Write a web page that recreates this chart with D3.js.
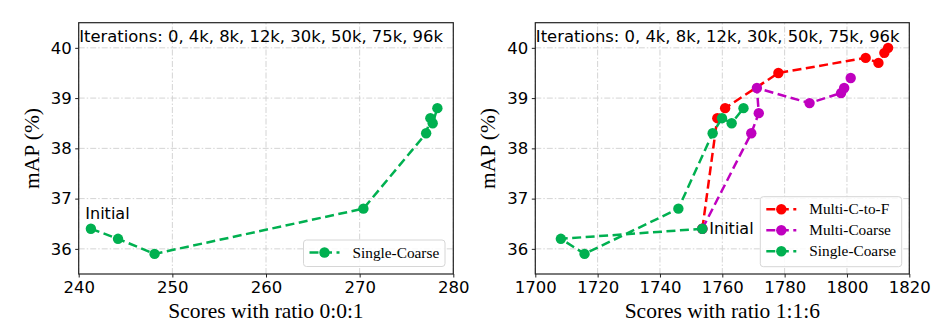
<!DOCTYPE html>
<html>
<head>
<meta charset="utf-8">
<script src="https://cdn.jsdelivr.net/npm/d3@7"></script>
<style>
  html, body { margin: 0; padding: 0; background: #fff; }
  svg { display: block; }
</style>
</head>
<body>
<div id="chart"></div>
<script>
// Scores vs mAP for the different training schemes, two panels side by side.
const iterationsText = "Iterations: 0, 4k, 8k, 12k, 30k, 50k, 75k, 96k";
const yTicks = [36, 37, 38, 39, 40];

// left panel: ratio 0:0:1
const leftTicks = [240, 250, 260, 270, 280];
const leftSingleScores = [241.3, 244.2, 248.1, 270.4, 277.1, 277.55, 277.8, 278.3];
const leftSingleMap = [36.4, 36.2, 35.9, 36.8, 38.3, 38.6, 38.5, 38.8];

// right panel: ratio 1:1:6
const rightTicks = [1700, 1720, 1740, 1760, 1780, 1800, 1820];
const c2fScores = [1753.6, 1758.4, 1760.9, 1778.0, 1806.0, 1810.1, 1812.0, 1813.2];
const c2fMap = [36.4, 38.6, 38.8, 39.5, 39.8, 39.7, 39.9, 40.0];
const multiScores = [1753.6, 1769.3, 1771.7, 1771.1, 1788.0, 1798.1, 1799.1, 1801.2];
const multiMap = [36.4, 38.3, 38.7, 39.2, 38.9, 39.1, 39.2, 39.4];
const singleScores = [1753.6, 1708.2, 1715.8, 1745.9, 1756.9, 1759.9, 1763.0, 1766.8];
const singleMap = [36.4, 36.2, 35.9, 36.8, 38.3, 38.6, 38.5, 38.8];

const colors = { c2f: "#ff0000", multi: "#bf00bf", single: "#00b050" };

const tickFont = "'DejaVu Sans', sans-serif";
const serifFont = "'Liberation Serif', 'Times New Roman', serif";

const svg = d3.select("#chart").append("svg")
    .attr("width", 952)
    .attr("height", 336);

function drawPanel(opt) {
    const x = d3.scaleLinear().domain(opt.xDomain).range([opt.left, opt.right]);
    const y = d3.scaleLinear().domain([35.5, 40.5]).range([274, 22.7]);
    const g = svg.append("g");

    // grid (dash-dot, light grey)
    g.selectAll(".vgrid").data(opt.xTicks).enter().append("line")
        .attr("x1", d => x(d)).attr("x2", d => x(d))
        .attr("y1", y.range()[0]).attr("y2", y.range()[1])
        .attr("stroke", "#d4d4d4").attr("stroke-width", 1)
        .attr("stroke-dasharray", "6,2,1.5,2");
    g.selectAll(".hgrid").data(yTicks).enter().append("line")
        .attr("x1", opt.left).attr("x2", opt.right)
        .attr("y1", d => y(d)).attr("y2", d => y(d))
        .attr("stroke", "#d4d4d4").attr("stroke-width", 1)
        .attr("stroke-dasharray", "6,2,1.5,2");

    // axes
    const xAxis = g.append("g")
        .attr("transform", `translate(0,${y.range()[0]})`)
        .call(d3.axisBottom(x).tickValues(opt.xTicks).tickSize(3.5).tickPadding(3.5).tickFormat(d3.format("d")));
    const yAxis = g.append("g")
        .attr("transform", `translate(${opt.left},0)`)
        .call(d3.axisLeft(y).tickValues(yTicks).tickSize(3.5).tickPadding(3.5).tickFormat(d3.format("d")));
    [xAxis, yAxis].forEach(a => {
        a.select(".domain").remove();
        a.selectAll("line").attr("stroke", "#222");
        a.selectAll("text").attr("fill", "#000")
            .style("font-family", tickFont).style("font-size", "16.5px");
    });

    // frame
    g.append("rect")
        .attr("x", opt.left).attr("y", y.range()[1])
        .attr("width", opt.right - opt.left).attr("height", y.range()[0] - y.range()[1])
        .attr("fill", "none").attr("stroke", "#222").attr("stroke-width", 1.2);

    // series
    const line = d3.line().x(d => x(d[0])).y(d => y(d[1]));
    opt.series.forEach(s => {
        const pts = d3.zip(s.scores, s.map);
        g.append("path").datum(pts)
            .attr("d", line)
            .attr("fill", "none")
            .attr("stroke", s.color)
            .attr("stroke-width", 2.5)
            .attr("stroke-dasharray", "9,4.5");
        g.selectAll(null).data(pts).enter().append("circle")
            .attr("cx", d => x(d[0])).attr("cy", d => y(d[1]))
            .attr("r", 5.2)
            .attr("fill", s.color);
    });

    // iterations note
    g.append("text")
        .attr("x", opt.left + 0.5).attr("y", 41.7)
        .style("font-family", tickFont).style("font-size", "16.4px")
        .text(iterationsText);

    // "Initial" annotation
    g.append("text")
        .attr("x", opt.initialPos[0]).attr("y", opt.initialPos[1])
        .style("font-family", tickFont).style("font-size", "16px")
        .text("Initial");

    // axis labels
    g.append("text")
        .attr("x", (opt.left + opt.right) / 2).attr("y", 318)
        .attr("text-anchor", "middle")
        .style("font-family", serifFont).style("font-size", "21.5px")
        .text(opt.xLabel);
    g.append("text")
        .attr("transform", `translate(${opt.left - 40},148.5) rotate(-90)`)
        .attr("text-anchor", "middle")
        .style("font-family", serifFont).style("font-size", "21.5px")
        .text("mAP (%)");

    // legend
    const lg = g.append("g");
    lg.append("rect")
        .attr("x", opt.legend.x).attr("y", opt.legend.y)
        .attr("width", opt.legend.w).attr("height", opt.legend.h)
        .attr("rx", 3)
        .attr("fill", "#fff").attr("fill-opacity", 0.85)
        .attr("stroke", "#d6d6d6").attr("stroke-width", 1);
    opt.series.forEach((s, i) => {
        const ly = opt.legend.y + 12.5 + i * 21;
        const lx = opt.legend.x + 6;
        lg.append("line")
            .attr("x1", lx).attr("x2", lx + 30)
            .attr("y1", ly).attr("y2", ly)
            .attr("stroke", s.color).attr("stroke-width", 2.5)
            .attr("stroke-dasharray", "9,4.5");
        lg.append("circle").attr("cx", lx + 15).attr("cy", ly).attr("r", 5.2).attr("fill", s.color);
        lg.append("text")
            .attr("x", lx + 43).attr("y", ly + 5)
            .style("font-family", serifFont).style("font-size", "15.3px")
            .text(s.name);
    });
}

drawPanel({
    left: 78.7, right: 453.3,
    xDomain: [240, 280], xTicks: leftTicks,
    xLabel: "Scores with ratio 0:0:1",
    initialPos: [85.3, 219],
    legend: { x: 303.5, y: 240, w: 141.5, h: 26.5 },
    series: [
        { name: "Single-Coarse", color: colors.single, scores: leftSingleScores, map: leftSingleMap }
    ]
});

drawPanel({
    left: 535.3, right: 909.3,
    xDomain: [1700, 1820], xTicks: rightTicks,
    xLabel: "Scores with ratio 1:1:6",
    initialPos: [709.3, 234],
    legend: { x: 760.3, y: 196.7, w: 141.4, h: 70 },
    series: [
        { name: "Multi-C-to-F", color: colors.c2f, scores: c2fScores, map: c2fMap },
        { name: "Multi-Coarse", color: colors.multi, scores: multiScores, map: multiMap },
        { name: "Single-Coarse", color: colors.single, scores: singleScores, map: singleMap }
    ]
});
</script>
</body>
</html>
